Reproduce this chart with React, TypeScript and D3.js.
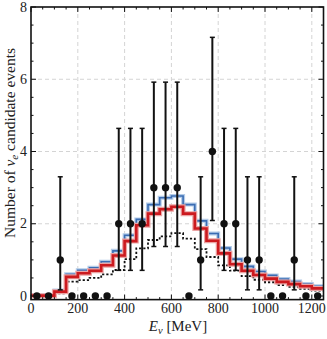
import React from "react";
import * as d3 from "d3";

// bin edges every 50 MeV, 0..1250
const binEdges = d3.range(0, 1251, 50);

// predicted spectra (events per bin)
const blueHist = [0.02, 0.02, 0.15, 0.6, 0.71, 0.78, 0.95, 1.25, 1.68, 2.12, 2.53, 2.72, 2.77, 2.53, 2.08, 1.73, 1.33, 1.02, 0.82, 0.68, 0.57, 0.47, 0.4, 0.33, 0.27];
const redHist = [0.01, 0.01, 0.12, 0.53, 0.63, 0.7, 0.85, 1.12, 1.52, 1.96, 2.28, 2.4, 2.47, 2.28, 1.87, 1.53, 1.18, 0.88, 0.7, 0.58, 0.48, 0.39, 0.33, 0.27, 0.21];
const dottedHist = [0.01, 0.01, 0.07, 0.4, 0.44, 0.5, 0.6, 0.72, 1.02, 1.32, 1.55, 1.65, 1.74, 1.59, 1.3, 1.08, 0.85, 0.7, 0.55, 0.45, 0.38, 0.3, 0.25, 0.2, 0.15];

// observed counts at bin centres
const observed = [0, 0, 1, 0, 0, 0, 0, 2, 2, 2, 3, 3, 3, 0, 1, 4, 2, 2, 1, 1, 0, 0, 1, 0, 0];
// 68% intervals per count (index = count)
const errLow = [0, 0.17, 0.71, 1.37, 2.09];
const errHigh = [0, 3.3, 4.64, 5.92, 7.16];

const xTicks = [0, 200, 400, 600, 800, 1000, 1200];
const yTicks = [0, 2, 4, 6, 8];

const W = 327;
const H = 339;
const left = 31, right = 323.5, top = 7;

const App = () => {
  const x = d3.scaleLinear().domain([0, 1250]).range([left, right]);
  const y = d3.scaleLinear().domain([0, 8]).range([296, top]);
  const bottom = y(-0.1);

  const step = (vals: number[]) =>
    d3
      .line<[number, number]>()
      .x(d => x(d[0]))
      .y(d => y(d[1]))
      .curve(d3.curveStepAfter)(
        binEdges.map((e, i) => [e, vals[Math.min(i, vals.length - 1)]] as [number, number])
      ) || "";

  const centers = binEdges.slice(0, -1).map(e => e + 25);
  const xMinor = d3.range(0, 1251, 50);
  const yMinor = d3.range(0, 8.01, 0.5);
  const font = "'Liberation Serif', 'DejaVu Serif', serif";

  return (
    <svg width={W} height={H} style={{ position: "absolute", left: 0, top: 0 }}>
      <rect x={0} y={0} width={W} height={H} fill="white" />
      {/* grid */}
      {xTicks.slice(1).map(t => (
        <line key={"gx" + t} x1={x(t)} x2={x(t)} y1={top} y2={bottom} stroke="#d4d4d4" strokeDasharray="4,3" strokeWidth={1} />
      ))}
      {yTicks.slice(1, -1).map(t => (
        <line key={"gy" + t} x1={left} x2={right} y1={y(t)} y2={y(t)} stroke="#d4d4d4" strokeDasharray="4,3" strokeWidth={1} />
      ))}

      {/* histograms */}
      <path d={step(dottedHist)} fill="none" stroke="#111" strokeWidth={1.8} strokeDasharray="2.2,2" />
      <path d={step(blueHist)} fill="none" stroke="#b3cbe8" strokeWidth={4} />
      <path d={step(blueHist)} fill="none" stroke="#3b6db3" strokeWidth={1.6} />
      <path d={step(redHist)} fill="none" stroke="#eba3a3" strokeWidth={5} />
      <path d={step(redHist)} fill="none" stroke="#cc1a1f" strokeWidth={2.6} />

      {/* data */}
      {centers.map((c, i) => {
        const n = observed[i];
        if (n === 0) return null;
        return (
          <g key={"e" + i} stroke="#111" strokeWidth={2}>
            <line x1={x(c)} x2={x(c)} y1={y(errLow[n])} y2={y(errHigh[n])} />
            <line x1={x(c) - 2.5} x2={x(c) + 2.5} y1={y(errLow[n])} y2={y(errLow[n])} strokeWidth={1.5} />
            <line x1={x(c) - 2.5} x2={x(c) + 2.5} y1={y(errHigh[n])} y2={y(errHigh[n])} strokeWidth={1.5} />
          </g>
        );
      })}
      {centers.map((c, i) => (
        <circle key={"d" + i} cx={x(c)} cy={y(observed[i])} r={3.7} fill="#111" />
      ))}

      {/* ticks */}
      {xMinor.map(t => {
        const len = t % 200 === 0 ? 5 : 2.5;
        return (
          <g key={"tx" + t} stroke="#111" strokeWidth={1}>
            <line x1={x(t)} x2={x(t)} y1={bottom} y2={bottom - len} />
            <line x1={x(t)} x2={x(t)} y1={top} y2={top + len} />
          </g>
        );
      })}
      {yMinor.map(t => {
        const len = t % 2 === 0 ? 5 : 2.5;
        return (
          <g key={"ty" + t} stroke="#111" strokeWidth={1}>
            <line x1={left} x2={left + len} y1={y(t)} y2={y(t)} />
            <line x1={right} x2={right - len} y1={y(t)} y2={y(t)} />
          </g>
        );
      })}

      {/* frame */}
      <rect x={left} y={top} width={right - left} height={bottom - top} fill="none" stroke="#111" strokeWidth={1.6} />

      {/* tick labels */}
      {xTicks.map(t => (
        <text key={"lx" + t} x={x(t)} y={313} textAnchor="middle" fontSize={14} fontFamily={font} fill="#222">
          {t}
        </text>
      ))}
      {yTicks.map(t => (
        <text key={"ly" + t} x={27} y={y(t) + 4.5} textAnchor="end" fontSize={14} fontFamily={font} fill="#222">
          {t}
        </text>
      ))}

      {/* axis labels */}
      <text x={178} y={331} textAnchor="middle" fontSize={15} fontFamily={font} fill="#222">
        <tspan fontStyle="italic">E</tspan>
        <tspan fontStyle="italic" fontSize={10.5} dy={3}>ν</tspan>
        <tspan dy={-3}> [MeV]</tspan>
      </text>
      <text transform={`translate(14.5,143) rotate(-90)`} textAnchor="middle" fontSize={15.5} fontFamily={font} fill="#222">
        Number of <tspan fontStyle="italic">ν</tspan>
        <tspan fontStyle="italic" fontSize={11} dy={3}>e</tspan>
        <tspan dy={-3}> candidate events</tspan>
      </text>
    </svg>
  );
};

export default App;
